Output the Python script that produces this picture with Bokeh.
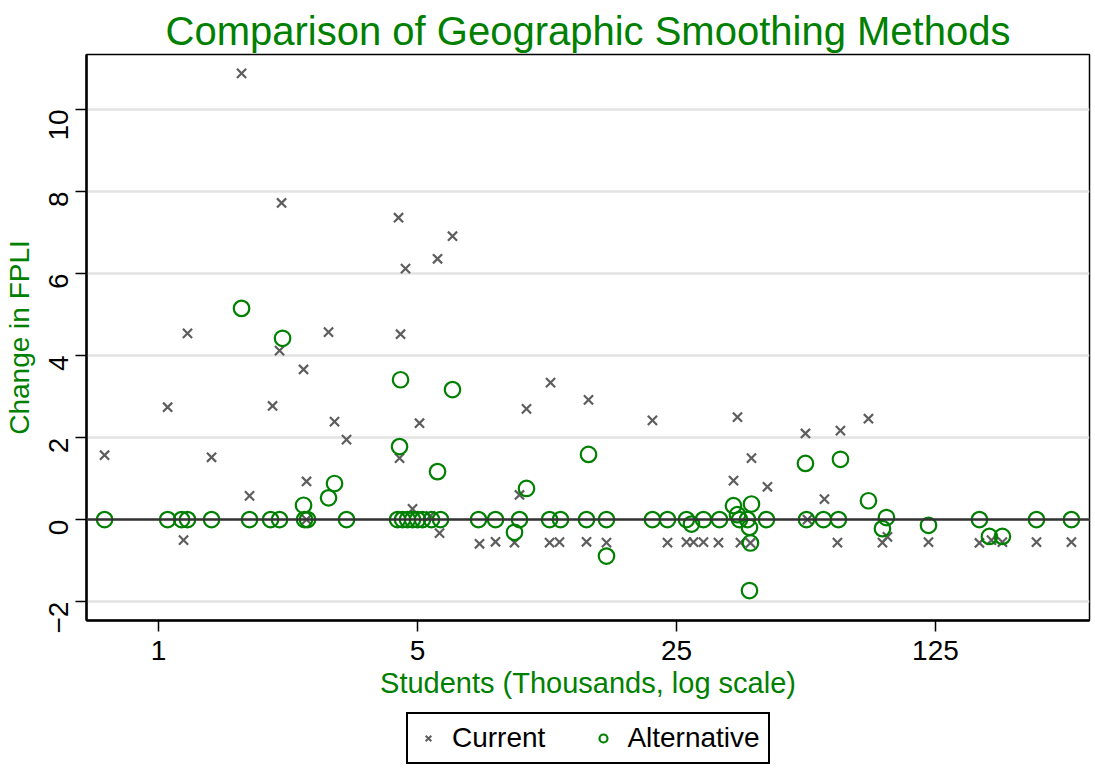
import math
from bokeh.plotting import figure
from bokeh.layouts import column
from bokeh.models import FixedTicker, PrintfTickFormatter, Span, Legend, Range1d
from bokeh.embed import file_html
from bokeh.resources import INLINE

# Current method: students (thousands) and change in FPLI
current_students = [0.715, 1.058, 1.197, 1.168, 1.390, 1.675, 1.760, 2.031, 2.121, 2.148,
                    2.462, 2.508, 2.508, 2.876, 2.985, 3.216, 4.443, 4.499, 4.471, 4.640,
                    4.847, 5.062, 5.420, 5.662, 5.733, 6.214, 7.350, 8.118, 9.135, 9.424,
                    9.842, 11.36, 11.43, 12.08, 14.29, 14.47, 16.18, 21.53, 23.64, 26.60,
                    27.79, 29.56, 32.45, 35.63, 36.52, 37.21, 39.59, 39.84, 44.00, 55.72,
                    56.42, 62.70, 67.97, 69.26, 82.43, 89.92, 92.76, 119.7, 164.3, 177.0,
                    189.5, 234.2, 291.0]
current_change = [1.57, 2.74, 4.54, -0.50, 1.52, 10.88, 0.58, 2.77, 4.12, 7.72,
                  3.66, 0.93, 0.0, 4.57, 2.39, 1.95, 7.36, 4.52, 1.50, 6.12,
                  0.26, 2.35, 0.09, 6.36, -0.33, 6.91, -0.59, -0.54, -0.56, 0.60,
                  2.70, -0.56, 3.34, -0.55, -0.54, 2.92, -0.56, 2.42, -0.56, -0.55,
                  -0.55, -0.55, -0.56, 0.95, 2.50, -0.56, -0.57, 1.50, 0.80, 2.10,
                  0.0, 0.50, -0.56, 2.17, 2.46, -0.56, -0.42, -0.55, -0.57, -0.50,
                  -0.55, -0.55, -0.55]

# Alternative method
alt_students = [1.675, 2.161, 4.499, 6.214, 4.471, 5.662, 2.985, 2.876, 2.462, 9.842,
                9.135, 14.47, 16.18, 27.44, 55.72, 69.26, 82.43, 35.63, 36.52, 39.84,
                39.35, 39.59, 39.35, 89.92, 92.18, 119.7, 174.8, 189.5,
                0.715, 1.058, 1.154, 1.197, 1.390, 1.760, 2.006, 2.121, 2.477, 2.524,
                3.216, 4.416, 4.555, 4.698, 4.847, 5.000, 5.157, 5.454, 5.768, 7.304,
                8.118, 9.424, 11.36, 12.16, 14.29, 16.18, 21.53, 23.64, 26.60, 29.56,
                32.66, 36.98, 38.86, 43.73, 56.07, 62.31, 68.40, 164.3, 234.2, 291.0]
alt_change = [5.15, 4.42, 3.41, 3.17, 1.78, 1.17, 0.88, 0.53, 0.35, 0.76,
              -0.31, 1.59, -0.89, -0.11, 1.37, 1.47, 0.46, 0.34, 0.12, 0.38,
              -0.19, -0.57, -1.73, -0.22, 0.05, -0.14, -0.41, -0.41,
              0, 0, 0, 0, 0, 0, 0, 0, 0, 0,
              0, 0, 0, 0, 0, 0, 0, 0, 0, 0,
              0, 0, 0, 0, 0, 0, 0, 0, 0, 0,
              0, 0, 0, 0, 0, 0, 0, 0, 0, 0]

series_names = ["Current", "Alternative"]
x_ticks = [1, 5, 25, 125]
y_ticks = [-2, 0, 2, 4, 6, 8, 10]

GREEN = "#008000"
GREY = "#5e5e5e"
FONT = "Liberation Sans"

p = figure(x_axis_type="log", frame_width=1003, frame_height=566,
           x_range=Range1d(0.639, 325.6), y_range=Range1d(-2.46, 11.34),
           output_backend="svg", toolbar_location=None,
           min_border_left=86, min_border_right=2, min_border_top=54, min_border_bottom=84,
           title="Comparison of Geographic Smoothing Methods")

p.title.text_font = FONT
p.title.text_font_size = "40px"
p.title.text_font_style = "normal"
p.title.text_color = GREEN
p.title.align = "center"
p.title.standoff = 4

p.outline_line_color = "black"
p.outline_line_width = 1.5
p.background_fill_color = "white"
p.border_fill_color = "white"

p.xgrid.grid_line_color = None
p.ygrid.grid_line_color = "#e3e3e3"
p.ygrid.grid_line_width = 2.5
p.ygrid.ticker = FixedTicker(ticks=y_ticks)

for ax in (p.xaxis[0], p.yaxis[0]):
    ax.axis_line_color = "black"
    ax.axis_line_width = 2.5
    ax.major_tick_line_color = "black"
    ax.major_tick_line_width = 1.5
    ax.major_tick_out = 11
    ax.major_tick_in = 0
    ax.minor_tick_line_color = None
    ax.major_label_text_font = FONT
    ax.major_label_text_font_size = "28px"
    ax.major_label_text_color = "black"
    ax.axis_label_text_font = FONT
    ax.axis_label_text_font_style = "normal"
    ax.axis_label_text_color = GREEN

p.xaxis.ticker = FixedTicker(ticks=x_ticks)
p.xaxis.formatter = PrintfTickFormatter(format="%d")
p.xaxis.axis_label = "Students (Thousands, log scale)"
p.xaxis.axis_label_text_font_size = "29px"
p.xaxis.major_label_standoff = 9
p.xaxis.axis_label_standoff = 4

p.yaxis.ticker = FixedTicker(ticks=y_ticks)
p.yaxis.major_label_orientation = math.pi / 2
p.yaxis.axis_label = "Change in FPLI"
p.yaxis.axis_label_text_font_size = "28px"
p.yaxis.major_label_standoff = 17
p.yaxis.axis_label_standoff = 2

zero = Span(location=0, dimension="width", line_color="#333333", line_width=2.5)
p.add_layout(zero)

r_cur = p.scatter(current_students, current_change, marker="x", size=13,
                  line_color=GREY, line_width=2.2)
r_alt = p.scatter(alt_students, alt_change, marker="circle", size=15.5,
                  fill_color=None, line_color=GREEN, line_width=2.2)

# legend strip below the chart (its own ranges keep the key glyph data out of view)
lg = figure(width=p.min_border_left + 1003 + 2, height=70,
            x_range=Range1d(1000, 2000), y_range=Range1d(1000, 2000),
            output_backend="svg", toolbar_location=None,
            min_border=0, x_axis_location=None, y_axis_location=None)
lg.grid.grid_line_color = None
lg.outline_line_color = None
lg.background_fill_color = "white"
lg.border_fill_color = "white"

k_cur = lg.scatter(current_students[:1], current_change[:1], marker="x", size=12,
                   line_color=GREY, line_width=2)
k_alt = lg.scatter(alt_students[:1], alt_change[:1], marker="circle", size=13,
                   fill_color=None, line_color=GREEN, line_width=2.2)

legend = Legend(items=[(series_names[0], [k_cur]), (series_names[1], [k_alt])],
                orientation="horizontal", location=(320, 10))
legend.border_line_color = "black"
legend.border_line_alpha = 1.0
legend.border_line_width = 2
legend.background_fill_color = "white"
legend.background_fill_alpha = 1.0
legend.label_text_font = FONT
legend.label_text_font_size = "28px"
legend.label_text_color = "black"
legend.glyph_width = 24
legend.label_standoff = 12
legend.spacing = 46
legend.padding = 8
legend.margin = 0
lg.add_layout(legend, "center")

layout = column(p, lg, spacing=0)
open("out.html", "w").write(file_html(layout, INLINE))
